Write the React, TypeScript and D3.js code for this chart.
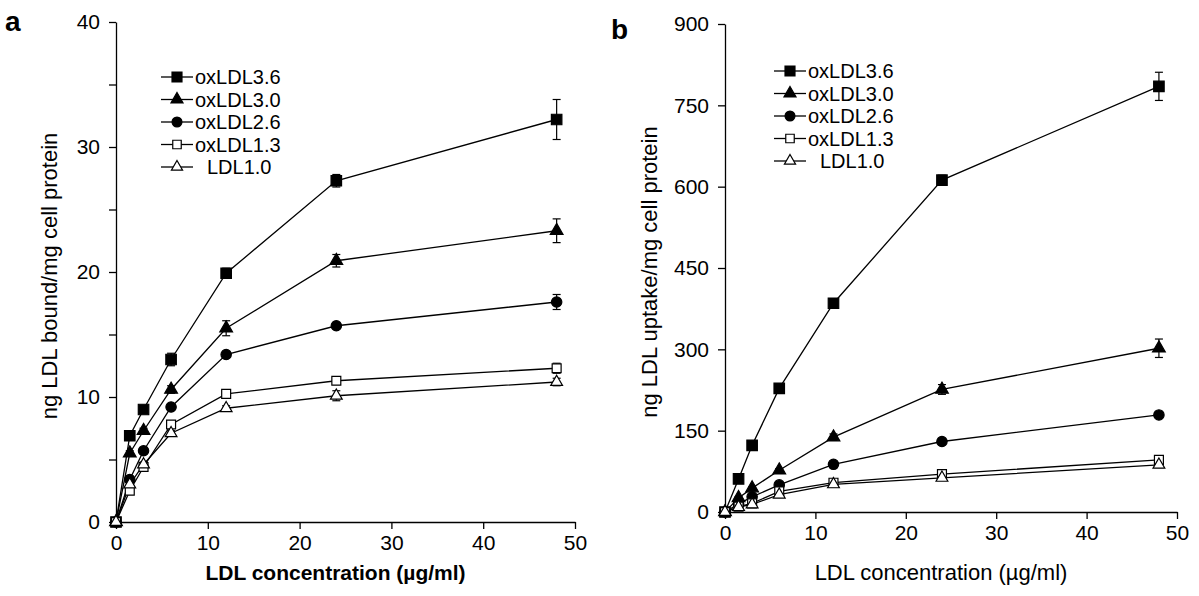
import { useRef, useEffect } from 'react'
import * as d3 from 'd3'

// LDL concentration (µg/ml)
const conc = [0, 1.5, 3, 6, 12, 24, 48]
const seriesNames = ['oxLDL3.6', 'oxLDL3.0', 'oxLDL2.6', 'oxLDL1.3', 'LDL1.0']

// panel a: ng LDL bound/mg cell protein
const boundOx36 = [0, 6.9, 9.0, 13.0, 19.9, 27.3, 32.2]
const boundOx30 = [0, 5.5, 7.3, 10.6, 15.5, 20.9, 23.3]
const boundOx26 = [0, 3.4, 5.7, 9.2, 13.4, 15.7, 17.6]
const boundOx13 = [0, 2.5, 4.4, 7.8, 10.25, 11.3, 12.3]
const boundLdl10 = [0, 3.0, 4.6, 7.1, 9.1, 10.1, 11.2]
const boundErr36 = [0, 0.2, 0.3, 0.5, 0.4, 0.5, 1.6]
const boundErr30 = [0, 0.2, 0.2, 0.3, 0.6, 0.5, 0.95]
const boundErr26 = [0, 0.2, 0.2, 0.2, 0.2, 0.2, 0.6]
const boundErr13 = [0, 0.2, 0.2, 0.2, 0.2, 0.3, 0.4]
const boundErr10 = [0, 0.2, 0.2, 0.2, 0.2, 0.4, 0.3]

// panel b: ng LDL uptake/mg cell protein
const uptakeOx36 = [0, 61, 123, 228, 385, 612, 785]
const uptakeOx30 = [0, 26, 44, 77, 138, 226, 302]
const uptakeOx26 = [0, 15, 28, 50, 88, 130, 179]
const uptakeOx13 = [0, 10, 16, 38, 54, 70, 96]
const uptakeLdl10 = [0, 9, 14, 32, 51, 63, 87]
const uptakeErr36 = [0, 3, 4, 8, 5, 9, 26]
const uptakeErr30 = [0, 2, 2, 3, 6, 9, 17]
const uptakeErr26 = [0, 1, 2, 3, 3, 4, 5]
const uptakeErr13 = [0, 1, 1, 2, 2, 3, 4]
const uptakeErr10 = [0, 1, 1, 2, 2, 3, 5]

const xTicks = [0, 10, 20, 30, 40, 50]
const boundTicks = [0, 5, 10, 15, 20, 25, 30, 35, 40]
const uptakeTicks = [0, 150, 300, 450, 600, 750, 900]

const font = 'Liberation Sans, Arial, Helvetica, sans-serif'

const markers = [
  { type: d3.symbolSquare, size: 110, fill: '#000' },
  { type: d3.symbolTriangle, size: 70, fill: '#000' },
  { type: d3.symbolCircle, size: 85, fill: '#000' },
  { type: d3.symbolSquare, size: 80, fill: '#fff' },
  { type: d3.symbolTriangle, size: 60, fill: '#fff' },
]

type PanelProps = {
  letter: string
  letterX: number
  letterY: number
  x0: number
  x1: number
  y0: number
  y1: number
  yMax: number
  yTicks: number[]
  labelEvery: number
  values: number[][]
  errors: number[][]
  yLabel: string
  yLabelX: number
  xLabel: string
  xLabelBold: boolean
  legendX: number
  legendY: number
}

function Panel(p: PanelProps) {
  const xAxisRef = useRef<SVGGElement>(null)
  const yAxisRef = useRef<SVGGElement>(null)

  const x = d3.scaleLinear().domain([0, 50]).range([p.x0, p.x1])
  const y = d3.scaleLinear().domain([0, p.yMax]).range([p.y0, p.y1])

  useEffect(() => {
    const xa = d3.select(xAxisRef.current)
    xa.call(
      d3.axisBottom(x).tickValues(xTicks).tickSize(7).tickSizeOuter(0).tickPadding(6)
    )
    const ya = d3.select(yAxisRef.current)
    ya.call(
      d3
        .axisLeft(y)
        .tickValues(p.yTicks)
        .tickSize(7)
        .tickSizeOuter(0)
        .tickPadding(9)
        .tickFormat((d) => ((d as number) % p.labelEvery === 0 ? String(d) : ''))
    )
    for (const g of [xa, ya]) {
      g.selectAll('text').attr('font-size', 21).attr('font-family', font).attr('fill', '#000')
      g.selectAll('line').attr('stroke', '#000').attr('stroke-width', 1.3)
      g.select('.domain').attr('stroke', '#000').attr('stroke-width', 1.3)
    }
  }, [])

  const line = d3
    .line<number>()
    .x((_, i) => x(conc[i]))
    .y((v) => y(v))

  return (
    <g>
      <text x={p.letterX} y={p.letterY} fontFamily={font} fontWeight="bold" fontSize={28}>
        {p.letter}
      </text>
      <g ref={xAxisRef} transform={`translate(0,${p.y0})`} />
      <g ref={yAxisRef} transform={`translate(${p.x0},0)`} />
      <text
        transform={`translate(${p.yLabelX},${(p.y0 + p.y1) / 2 + 4}) rotate(-90)`}
        textAnchor="middle"
        fontFamily={font}
        fontSize={22}
      >
        {p.yLabel}
      </text>
      <text
        x={(p.x0 + p.x1) / 2 - 10}
        y={580}
        textAnchor="middle"
        fontFamily={font}
        fontSize={p.xLabelBold ? 21 : 22}
        fontWeight={p.xLabelBold ? 'bold' : 'normal'}
      >
        {p.xLabel}
      </text>
      {p.values.map((vals, s) => (
        <path key={'l' + s} d={line(vals) ?? ''} fill="none" stroke="#000" strokeWidth={1.3} />
      ))}
      {p.values.map((vals, s) =>
        vals.map((v, i) => {
          const e = p.errors[s][i]
          if (e <= 0) return null
          const cx = x(conc[i])
          return (
            <g key={`e${s}-${i}`} stroke="#000" strokeWidth={1.2}>
              <line x1={cx} x2={cx} y1={y(v - e)} y2={y(v + e)} />
              <line x1={cx - 4} x2={cx + 4} y1={y(v + e)} y2={y(v + e)} />
              <line x1={cx - 4} x2={cx + 4} y1={y(v - e)} y2={y(v - e)} />
            </g>
          )
        })
      )}
      {p.values.map((vals, s) =>
        vals.map((v, i) => (
          <path
            key={`m${s}-${i}`}
            transform={`translate(${x(conc[i])},${y(v)})`}
            d={d3.symbol(markers[s].type, markers[s].size)() ?? ''}
            fill={markers[s].fill}
            stroke="#000"
            strokeWidth={1.2}
          />
        ))
      )}
      {seriesNames.map((name, s) => {
        const ly = p.legendY + s * 22.5
        return (
          <g key={'lg' + s}>
            <line x1={p.legendX - 16} x2={p.legendX + 16} y1={ly} y2={ly} stroke="#000" strokeWidth={1.3} />
            <path
              transform={`translate(${p.legendX},${ly})`}
              d={d3.symbol(markers[s].type, markers[s].size * 0.9)() ?? ''}
              fill={markers[s].fill}
              stroke="#000"
              strokeWidth={1.2}
            />
            <text
              x={p.legendX + (s === 4 ? 30 : 18)}
              y={ly + 7}
              fontFamily={font}
              fontSize={20}
            >
              {name}
            </text>
          </g>
        )
      })}
    </g>
  )
}

export default function App() {
  return (
    <svg
      width={1199}
      height={596}
      style={{ position: 'absolute', left: 0, top: 0, background: '#fff' }}
    >
      <rect width={1199} height={596} fill="#fff" />
      <Panel
        letter="a"
        letterX={5}
        letterY={31}
        x0={116}
        x1={575}
        y0={522}
        y1={22}
        yMax={40}
        yTicks={boundTicks}
        labelEvery={10}
        values={[boundOx36, boundOx30, boundOx26, boundOx13, boundLdl10]}
        errors={[boundErr36, boundErr30, boundErr26, boundErr13, boundErr10]}
        yLabel="ng LDL bound/mg cell protein"
        yLabelX={57}
        xLabel="LDL concentration (µg/ml)"
        xLabelBold={true}
        legendX={177}
        legendY={77}
      />
      <Panel
        letter="b"
        letterX={611}
        letterY={39}
        x0={725}
        x1={1177}
        y0={512}
        y1={24}
        yMax={900}
        yTicks={uptakeTicks}
        labelEvery={150}
        values={[uptakeOx36, uptakeOx30, uptakeOx26, uptakeOx13, uptakeLdl10]}
        errors={[uptakeErr36, uptakeErr30, uptakeErr26, uptakeErr13, uptakeErr10]}
        yLabel="ng LDL uptake/mg cell protein"
        yLabelX={657}
        xLabel="LDL concentration (µg/ml)"
        xLabelBold={false}
        legendX={790}
        legendY={71}
      />
    </svg>
  )
}
